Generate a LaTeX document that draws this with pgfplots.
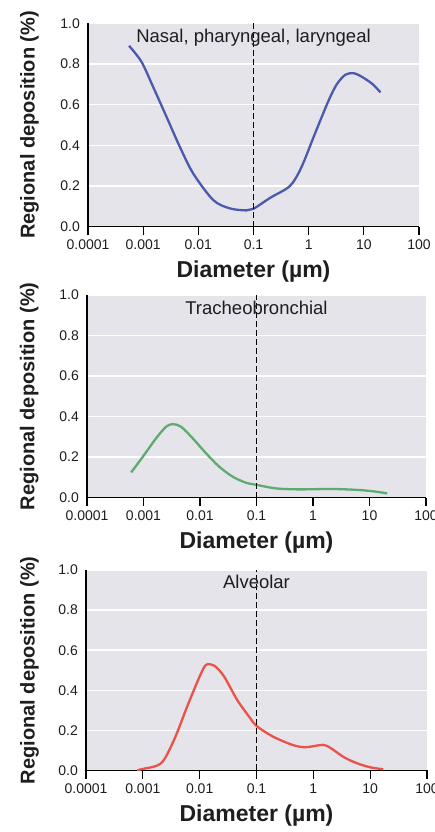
\documentclass[border=0pt]{standalone}
\usepackage{fontspec}
\setmainfont{Liberation Sans}
\usepackage{pgfplots}
\pgfplotsset{compat=1.18}

\definecolor{panelbg}{RGB}{228,228,234}
\definecolor{labelgray}{RGB}{30,30,30}
\definecolor{nasalblue}{RGB}{76,90,172}
\definecolor{tracgreen}{RGB}{92,172,112}
\definecolor{alvred}{RGB}{234,82,74}

\pgfplotsset{
  every axis/.append style={
    scale only axis,
    xmin=1e-4, xmax=100,
    ymin=0, ymax=1,
    axis lines*=left,
    axis line style={black, line width=1.4pt},
    axis background/.style={fill=panelbg},
    xtick={1e-4,1e-3,1e-2,1e-1,1,10,100},
    xticklabels={0.0001,0.001,0.01,0.1,1,10,100},
    ytick={0,0.2,0.4,0.6,0.8,1},
    yticklabels={0.0,0.2,0.4,0.6,0.8,1.0},
    ymajorgrids,
    grid style={white, line width=1.4pt},
    tick align=outside,
    major tick length=8pt,
    xtick style={black, line width=1.3pt},
    ytick style={draw=none},
    ticklabel style={font=\fontsize{14}{16}\selectfont, text=labelgray, inner sep=0pt},
    xticklabel style={yshift=-5pt},
    xlabel={Diameter (µm)},
    ylabel={Regional deposition (\%)},
    xlabel style={font=\bfseries\fontsize{23}{26}\selectfont, text=labelgray,
      at={(axis description cs:0.5,0)}, anchor=base, yshift=-51pt},
    ylabel style={font=\bfseries\fontsize{20}{22}\selectfont, text=labelgray, anchor=center},
  },
}
\tikzset{
  depocurve/.style={smooth, tension=0.5, line width=2.3pt},
  cutline/.style={black, line width=1.6pt, dash pattern=on 6pt off 3pt},
  regionlabel/.style={font=\fontsize{18.5}{20}\selectfont, text=labelgray, anchor=base},
}

\begin{document}
\begin{tikzpicture}
\path[use as bounding box] (0pt,0pt) rectangle (434pt,832pt);

% nasal, pharyngeal, laryngeal
\begin{semilogxaxis}[at={(88pt,605.3pt)}, width=331pt, height=203.5pt,
  xminorticks=false,
  ylabel style={at={(axis description cs:-0.177,0.5)}}]
\addplot[depocurve, nasalblue, no markers] coordinates {
  (5.55e-4,0.889) (9.29e-4,0.811) (1.51e-3,0.688) (2.64e-3,0.541)
  (4.61e-3,0.393) (8.05e-3,0.262) (0.0186,0.131) (0.0372,0.090)
  (0.0741,0.080) (0.1,0.088) (0.204,0.143) (0.457,0.200)
  (0.733,0.290) (1.29,0.455) (2.29,0.619) (3.24,0.700) (4.65,0.747)
  (6.61,0.754) (9.55,0.734) (14.5,0.700) (20.0,0.660)
};
\addplot[cutline, no markers] coordinates {(0.1,0) (0.1,1)};
\node[regionlabel] at (rel axis cs:0.5,1) [yshift=-19.5pt] {Nasal, pharyngeal, laryngeal};
\end{semilogxaxis}

% tracheobronchial
\begin{semilogxaxis}[at={(87pt,334.3pt)}, width=339pt, height=202.7pt,
  xminorticks=false,
  ylabel style={at={(axis description cs:-0.170,0.5)}}]
\addplot[depocurve, tracgreen, no markers] coordinates {
  (6.05e-4,0.125) (9.73e-4,0.202) (1.67e-3,0.293) (2.51e-3,0.350)
  (3.30e-3,0.363) (4.62e-3,0.350) (7.43e-3,0.293) (0.0128,0.219)
  (0.0219,0.153) (0.0377,0.104) (0.0649,0.074) (0.104,0.0625)
  (0.219,0.046) (0.566,0.041) (2.19,0.043) (6.49,0.038)
  (12.8,0.030) (20.5,0.021)
};
\addplot[cutline, no markers] coordinates {(0.1,0) (0.1,1)};
\node[regionlabel] at (rel axis cs:0.5,1) [yshift=-19.5pt] {Tracheobronchial};
\end{semilogxaxis}

% alveolar
\begin{semilogxaxis}[at={(86pt,61.5pt)}, width=341pt, height=200.5pt,
  xminorticks=false,
  ylabel style={at={(axis description cs:-0.166,0.5)}}]
\addplot[depocurve, alvred, no markers] coordinates {
  (8.0e-4,0.0) (9.33e-4,0.006) (2.09e-3,0.036) (3.55e-3,0.153)
  (6.03e-3,0.319) (0.01,0.469) (0.0130,0.527) (0.0182,0.522)
  (0.0269,0.469) (0.0457,0.352) (0.0776,0.261) (0.1,0.222)
  (0.195,0.169) (0.427,0.128) (0.724,0.116) (1.48,0.128)
  (2.04,0.111) (3.47,0.066) (5.89,0.036) (10,0.016) (17.0,0.006)
};
\addplot[cutline, no markers] coordinates {(0.1,0) (0.1,1)};
\node[regionlabel] at (rel axis cs:0.5,1) [yshift=-19pt] {Alveolar};
\end{semilogxaxis}
\end{tikzpicture}
\end{document}
